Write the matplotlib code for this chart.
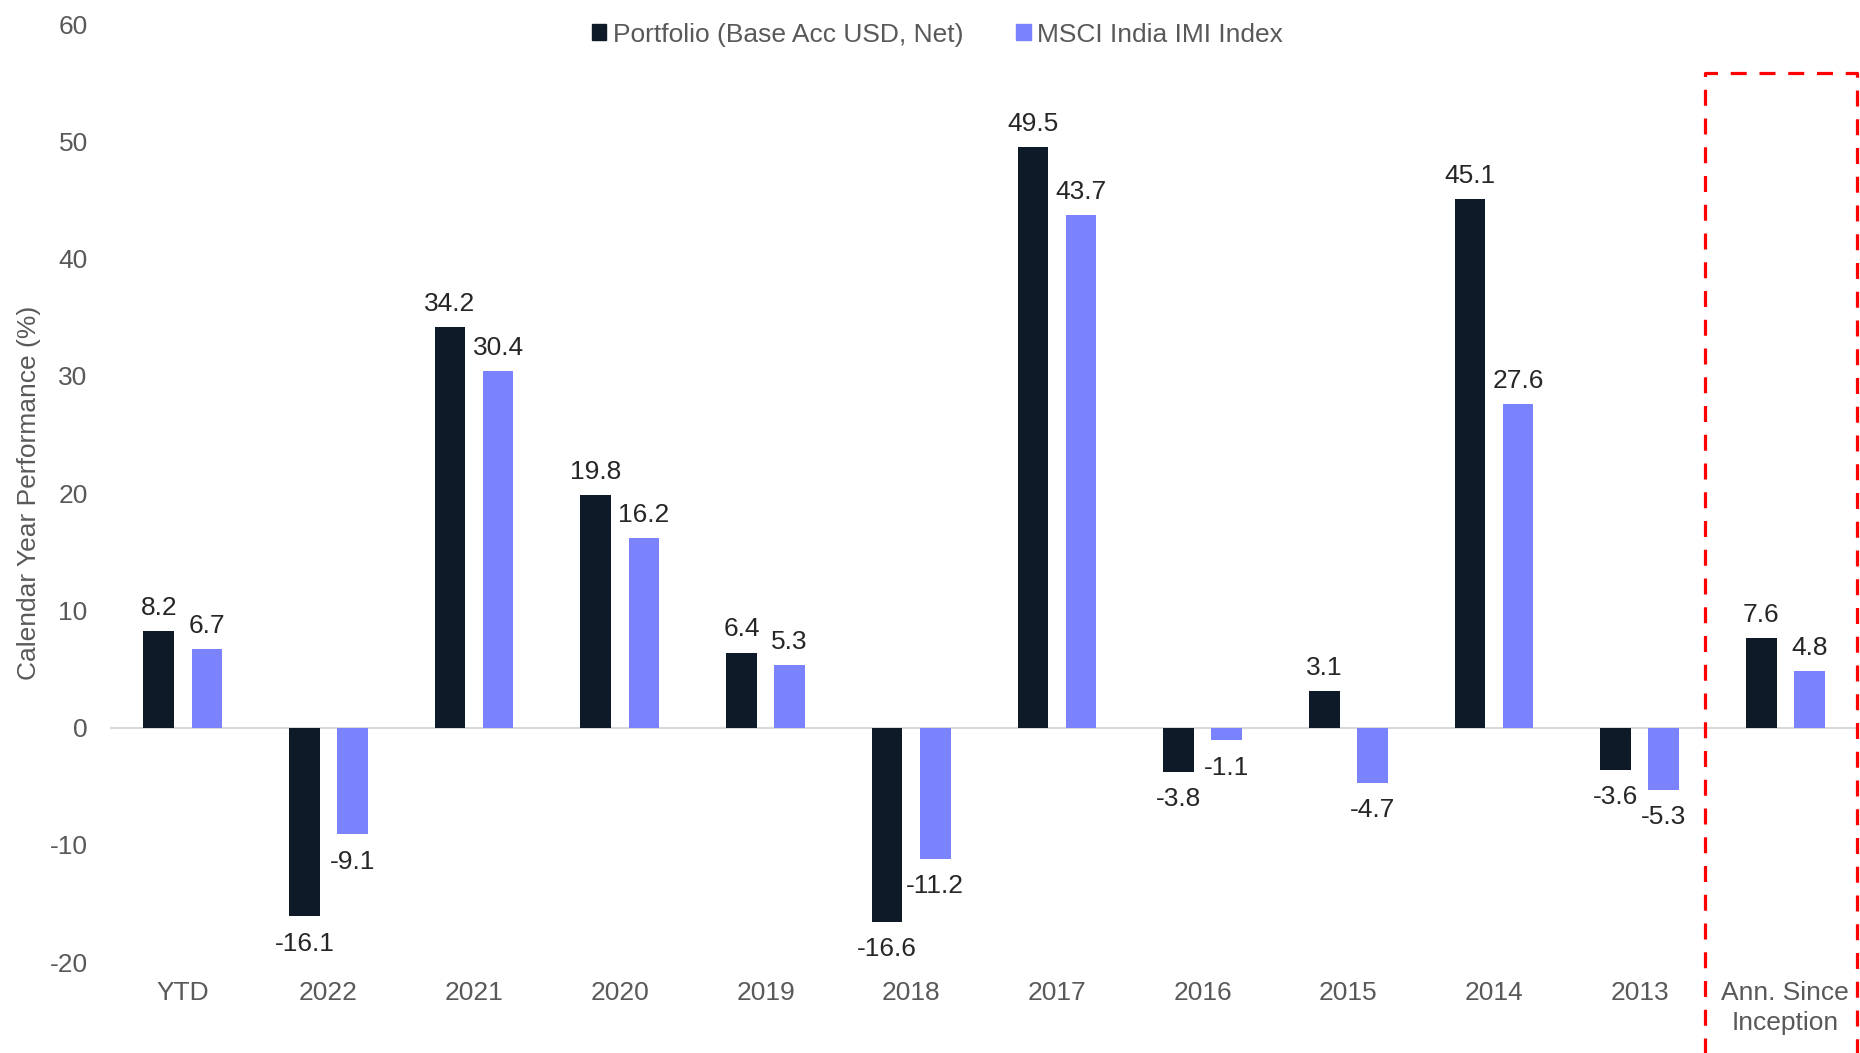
import numpy as np
import matplotlib.pyplot as plt
from matplotlib.patches import Patch
from matplotlib.lines import Line2D

categories = ["YTD", "2022", "2021", "2020", "2019", "2018", "2017",
              "2016", "2015", "2014", "2013", "Ann. Since\nInception"]
portfolio = [8.2, -16.1, 34.2, 19.8, 6.4, -16.6, 49.5, -3.8, 3.1, 45.1, -3.6, 7.6]
index_vals = [6.7, -9.1, 30.4, 16.2, 5.3, -11.2, 43.7, -1.1, -4.7, 27.6, -5.3, 4.8]
yticks = [-20, -10, 0, 10, 20, 30, 40, 50, 60]

DARK = "#0E1A28"
BLUE = "#7A82FC"
GREY = "#595959"
FS = 19

plt.rcParams['font.family'] = ['Liberation Sans', 'DejaVu Sans']

fig = plt.figure(figsize=(18.6, 10.53), dpi=100)
ax = fig.add_axes([0.0591, 0.0864, 0.9399, 0.8906])

x = np.arange(len(categories))
w = 0.21
off = 0.165
b1 = ax.bar(x - off, portfolio, w, color=DARK, zorder=3)
b2 = ax.bar(x + off, index_vals, w, color=BLUE, zorder=3)

for bars, vals in ((b1, portfolio), (b2, index_vals)):
    for rect, v in zip(bars, vals):
        cx = rect.get_x() + rect.get_width() / 2
        if v >= 0:
            ax.annotate(f"{v:.1f}", (cx, v), xytext=(0, 8), textcoords="offset points",
                        ha="center", va="bottom", fontsize=FS, color="#262626")
        else:
            ax.annotate(f"{v:.1f}", (cx, v), xytext=(0, -11), textcoords="offset points",
                        ha="center", va="top", fontsize=FS, color="#262626")

ax.axhline(0, color="#D9D9D9", lw=1.5, zorder=2)

ax.set_xlim(-0.5, len(categories) - 0.5)
ax.set_ylim(-20, 60)
ax.set_yticks(yticks)
ax.set_yticklabels([str(t) for t in yticks])
ax.set_xticks(x)
ax.set_xticklabels(categories, va="top", linespacing=1.3)
ax.tick_params(axis="y", length=0, pad=16, labelsize=FS, labelcolor=GREY)
ax.tick_params(axis="x", length=0, pad=14, labelsize=FS, labelcolor=GREY)
for s in ax.spines.values():
    s.set_visible(False)

ax.set_ylabel("Calendar Year Performance (%)", fontsize=FS, color=GREY, labelpad=6)

# dashed box around the since-inception group
bx0, bx1, btop = 10.45, 11.49, 55.8
ax.add_line(Line2D([bx0, bx0, bx1, bx1], [-40, btop, btop, -40], color="#FF0000",
                   lw=2.3, linestyle=(0, (5, 4)), clip_on=False, zorder=4))

handles = [Patch(color=DARK, label="Portfolio (Base Acc USD, Net)"),
           Patch(color=BLUE, label="MSCI India IMI Index")]
leg = fig.legend(handles=handles, loc="center", bbox_to_anchor=(0.504, 0.967), ncol=2,
                 frameon=False, fontsize=FS, handlelength=0.55, handleheight=0.55,
                 handletextpad=0.25, columnspacing=2.0)
for t in leg.get_texts():
    t.set_color(GREY)

fig.savefig("out.png", dpi=100)
